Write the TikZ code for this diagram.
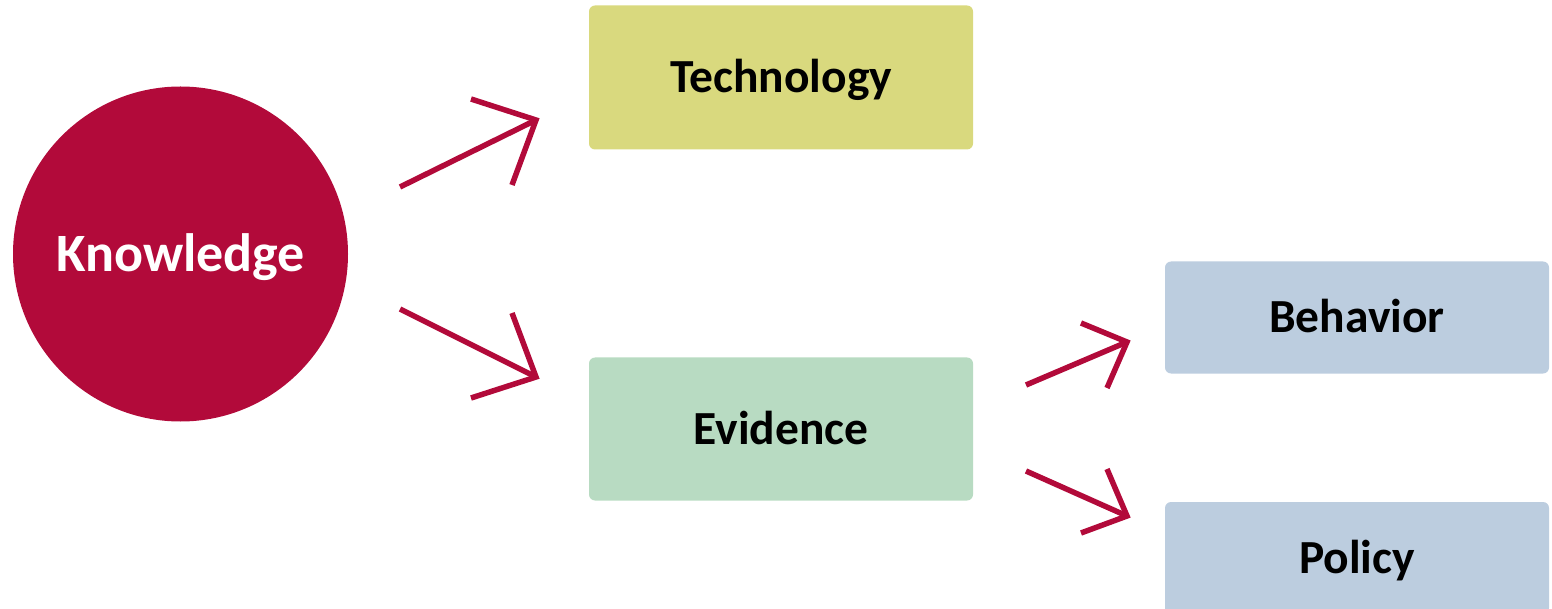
\documentclass[tikz,border=0pt]{standalone}
\usepackage{fontspec}
\setmainfont{Carlito}
\definecolor{crimson}{HTML}{B20A3A}
\definecolor{techcol}{HTML}{D9D97E}
\definecolor{evcol}{HTML}{B8DBC2}
\definecolor{bluecol}{HTML}{BCCDDF}
\begin{document}
\begin{tikzpicture}[x=1pt,y=-1pt,
  boxnode/.style={rectangle,rounded corners=6pt,minimum width=384pt,inner sep=0pt,
    font=\fontsize{47.5}{52}\selectfont\bfseries,text=black,text height=31pt,text depth=0pt},
  arrowline/.style={draw=crimson,line width=5.5pt,line join=miter}]
\useasboundingbox (0,0) rectangle (1552,609);
\clip (0,0) rectangle (1552,609);
\node[circle,fill=crimson,minimum size=335pt,inner sep=0pt,text=white,
  font=\fontsize{54}{60}\selectfont\bfseries,text height=35pt,text depth=0pt] (know) at (180.5,254) {Knowledge};
\node[boxnode,fill=techcol,minimum height=144pt] (tech) at (781,77.5) {Technology};
\node[boxnode,fill=evcol,minimum height=143pt] (evid) at (781,429) {Evidence};
\node[boxnode,fill=bluecol,minimum height=112pt] (behav) at (1357,317.5) {Behavior};
\node[boxnode,fill=bluecol,minimum height=112pt] (pol) at (1357,558) {Policy};
% arrow 1
\coordinate (a1s) at (400,187);
\coordinate (a1e) at (536,120);
\coordinate (a1l) at (471,99);
\coordinate (a1r) at (512,185);
\draw[arrowline] (a1s) -- (a1e);
\draw[arrowline] (a1l) -- (a1e) -- (a1r);
% arrow 2
\coordinate (a2s) at (400,309);
\coordinate (a2e) at (536,377);
\coordinate (a2l) at (471,398);
\coordinate (a2r) at (512,313);
\draw[arrowline] (a2s) -- (a2e);
\draw[arrowline] (a2l) -- (a2e) -- (a2r);
% arrow 3
\coordinate (a3s) at (1026,385);
\coordinate (a3e) at (1127,342);
\coordinate (a3l) at (1081,323);
\coordinate (a3r) at (1107,388);
\draw[arrowline] (a3s) -- (a3e);
\draw[arrowline] (a3l) -- (a3e) -- (a3r);
% arrow 4
\coordinate (a4s) at (1026,471);
\coordinate (a4e) at (1127,516);
\coordinate (a4l) at (1081,533);
\coordinate (a4r) at (1107,469);
\draw[arrowline] (a4s) -- (a4e);
\draw[arrowline] (a4l) -- (a4e) -- (a4r);
\end{tikzpicture}
\end{document}
